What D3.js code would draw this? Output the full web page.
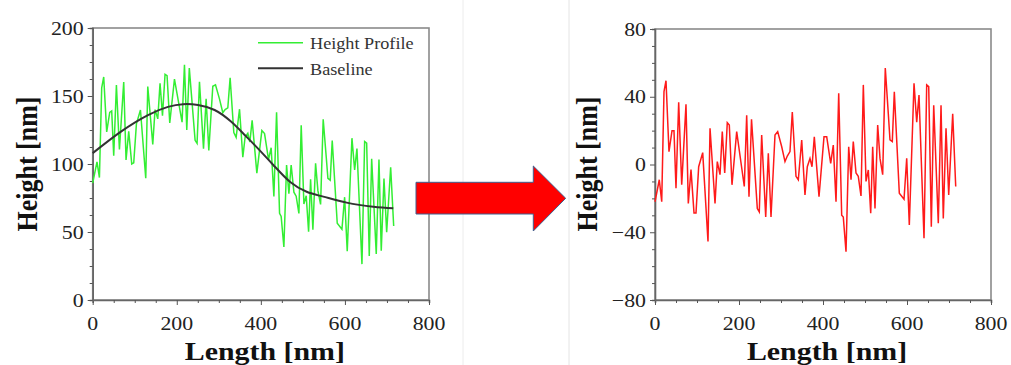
<!DOCTYPE html>
<html>
<head>
<meta charset="utf-8">
<script src="https://cdn.jsdelivr.net/npm/d3@7"></script>
<style>
  html, body { margin: 0; padding: 0; background: #fff; }
  svg text { font-family: "Liberation Serif", "Times New Roman", serif; }
</style>
</head>
<body>
<svg id="chart" width="1011" height="365"></svg>
<script>
// sample positions along the profile (nm)
const lengthNm = [0, 10.2, 16, 21.4, 26.2, 33.3, 40.5, 45.2, 50, 56.4, 63.6, 73.8, 79.3, 85.7, 92.9, 97.6,
  104, 113.6, 126.2, 131, 142.9, 148.3, 154.8, 160.2, 166, 172.1, 176.9, 183.3, 194.5, 212.6, 218.3, 223.8,
  229.8, 243.6, 248.3, 254, 263.6, 269.8, 276.2, 285.7, 292.1, 301.7, 309.5, 315, 321.4, 326.9, 335.7, 341.2,
  349.3, 357.1, 362.6, 369, 373.8, 379.3, 390.5, 402.4, 408.8, 418.3, 424.5, 431, 437.4, 444.5, 448.3, 454.8,
  461.2, 466.7, 472.1, 478.6, 484, 490.5, 496, 502.4, 507.9, 513.6, 518.3, 523.8, 530.2, 535.7, 542.1, 548.3,
  555.5, 559.5, 565, 569.8, 581.7, 592.9, 599.3, 605.5, 616.7, 623.1, 628.6, 640.5, 646.9, 651.7, 657.9, 663.6,
  674.5, 681, 686.4, 692.9, 699.3, 708.8, 716];

// raw height profile (nm)
const heightProfile = [86, 101.5, 90, 156, 164, 123.6, 138, 139, 106, 158, 110.7, 160.3, 103, 124, 100, 100.8,
  129.5, 139.7, 89.5, 157, 114.4, 140, 133.2, 159.4, 135.6, 166, 165, 130.2, 162.4, 130.8, 173, 125,
  170.5, 117.4, 115.2, 160.4, 111.3, 148, 109.9, 157.2, 158.2, 147.7, 137.7, 140, 141.3, 163.4, 123.2, 119.6,
  140.3, 105, 119.9, 122.6, 116.2, 132.2, 93.3, 124.6, 122.4, 103.3, 112, 76.2, 138, 63.7, 61.5, 39,
  99.2, 78.2, 99.3, 79.3, 76.3, 63.6, 128.5, 70.6, 76.6, 50.2, 88.8, 51.7, 100.5, 80.4, 70.3, 132.8,
  105.3, 89.5, 88.1, 117.3, 56.4, 52, 75.6, 35.9, 119, 95.7, 111.4, 26.4, 116.6, 115.4, 32.4, 103.8,
  33.8, 103.3, 36.3, 89.4, 49.8, 97.6, 54.4];

// profile after baseline removal (nm)
const flattened = [-22, -9, -22, 43, 49.5, 7.6, 20, 20, -14, 36.7, -12, 35.5, -23, -3, -28.7, -28.7,
  -1.3, 7, -45.5, 21.4, -23, 1.7, -6, 19.4, -5, 24.7, 23.3, -12, 19.4, -13, 29, -19,
  26.7, -26, -28, 17.4, -31, 6.6, -31, 17.4, 19.4, 10.5, 1.7, 5, 7.6, 31, -7, -9,
  14.5, -18, -1.3, 3.6, -1.3, 16.4, -19, 16.4, 16.4, 0.7, 11.5, -22, 42, -30, -31, -51.5,
  10.5, -9, 13.5, -5, -7, -18.6, 47, -10, -3.2, -28.8, 10.5, -26, 23.3, 3.6, -6, 57,
  30, 14.5, 13.5, 43, -17, -20.5, 3.6, -35.7, 48, 25, 41, -43.6, 47, 46, -36.7, 35,
  -34.7, 35, -31.8, 21.4, -18, 30, -13];

// smooth baseline control points
const baseX = [0, 68, 131.5, 179, 215, 250.5, 290, 329.7, 361.6, 382, 429.6, 469, 509, 548.5, 604, 667.5, 715];
const baseY = [108, 124, 136, 142, 144, 143.4, 139.7, 131, 121.3, 115, 99.3, 87, 79.6, 76, 71.6, 68.6, 67.4];

const xTicks = [0, 200, 400, 600, 800];
const leftYTicks = [0, 50, 100, 150, 200];
const rightYTicks = [-80, -40, 0, 40, 80];
const legendNames = ["Height Profile", "Baseline"];

// the source picture is a little stretched sideways
const stretch = 1.15;

const svg = d3.select('#chart');

// faint screenshot edges
svg.append('line').attr('x1', 463).attr('x2', 463).attr('y1', 0).attr('y2', 365)
  .attr('stroke', '#ececec').attr('stroke-width', 1);
svg.append('line').attr('x1', 569).attr('x2', 569).attr('y1', 0).attr('y2', 365)
  .attr('stroke', '#e4e4e4').attr('stroke-width', 1);

function stretchedText(g, x, y, anchor, size, weight, str) {
  return g.append('text')
    .attr('transform', `translate(${x},${y}) scale(${stretch},1)`)
    .attr('text-anchor', anchor).attr('font-size', size).attr('font-weight', weight)
    .attr('fill', '#111').text(str);
}

function drawPanel(opts) {
  const x = d3.scaleLinear().domain([0, 800]).range([opts.x0, opts.x1]);
  const y = d3.scaleLinear().domain(opts.yDomain).range([300, opts.yTop]);
  const g = svg.append('g');

  // frame
  g.append('rect')
    .attr('x', opts.x0).attr('y', opts.yTop)
    .attr('width', opts.x1 - opts.x0).attr('height', 300 - opts.yTop)
    .attr('fill', 'none').attr('stroke', '#8a8a8a').attr('stroke-width', 1.6);

  // x axis
  const xAx = g.append('g').attr('transform', 'translate(0,300)')
    .call(d3.axisBottom(x).tickValues(d3.range(0, 801, 50)).tickSize(3).tickFormat(''));
  xAx.selectAll('line').attr('stroke', '#555')
    .attr('y2', d => d % 200 === 0 ? 5 : 3);
  xAx.select('.domain').attr('stroke', '#666').attr('stroke-width', 1.6);
  xTicks.forEach(d => stretchedText(g, x(d), 330, 'middle', 19, 'normal', d).attr('fill', '#222'));

  // y axis
  const yAx = g.append('g').attr('transform', `translate(${opts.x0},0)`)
    .call(d3.axisLeft(y).tickValues(d3.range(opts.yDomain[0], opts.yDomain[1] + 0.01, opts.minor))
      .tickSize(3).tickFormat(''));
  yAx.selectAll('line').attr('stroke', '#555')
    .attr('x2', d => opts.yTicks.includes(d) ? -5 : -3);
  yAx.select('.domain').attr('stroke', '#666').attr('stroke-width', 1.6);
  opts.yTicks.forEach(d => stretchedText(g, opts.x0 - 9, y(d) + 6.5, 'end', 19, 'normal',
    d < 0 ? '\u2212' + Math.abs(d) : d).attr('fill', '#222'));

  // titles
  stretchedText(g, (opts.x0 + opts.x1) / 2 + 4, 360, 'middle', 26, 'bold', 'Length [nm]');
  g.append('text')
    .attr('transform', `translate(${opts.labelX},164) scale(${stretch},1) rotate(-90)`)
    .attr('text-anchor', 'middle').attr('font-size', 26).attr('font-weight', 'bold').attr('fill', '#111')
    .text('Height [nm]');

  return { x, y, g };
}

// left panel: profile and baseline
const left = drawPanel({ x0: 92.7, x1: 429, yTop: 28, yDomain: [0, 200], minor: 12.5,
  yTicks: leftYTicks, labelX: 37 });

left.g.append('path')
  .datum(lengthNm.map((d, i) => [d, heightProfile[i]]))
  .attr('fill', 'none').attr('stroke', '#33ee33').attr('stroke-width', 1.5)
  .attr('d', d3.line().x(d => left.x(d[0])).y(d => left.y(d[1])));

left.g.append('path')
  .datum(baseX.map((d, i) => [d, baseY[i]]))
  .attr('fill', 'none').attr('stroke', '#333').attr('stroke-width', 2)
  .attr('d', d3.line().curve(d3.curveNatural).x(d => left.x(d[0])).y(d => left.y(d[1])));

// legend
const legColors = ['#33ee33', '#333'];
legendNames.forEach((name, i) => {
  const ly = 42.7 + i * 25.6;
  left.g.append('line').attr('x1', 258).attr('x2', 303).attr('y1', ly).attr('y2', ly)
    .attr('stroke', legColors[i]).attr('stroke-width', i ? 2 : 1.6);
  left.g.append('text')
    .attr('transform', `translate(310,${ly + 6.5}) scale(1.04,1)`)
    .attr('font-size', 17.5).attr('fill', '#333').text(name);
});

// right panel: flattened profile
const right = drawPanel({ x0: 655, x1: 991, yTop: 29, yDomain: [-80, 80], minor: 10,
  yTicks: rightYTicks, labelX: 597 });

right.g.append('path')
  .datum(lengthNm.map((d, i) => [d, flattened[i]]))
  .attr('fill', 'none').attr('stroke', '#ff1a1a').attr('stroke-width', 1.5)
  .attr('d', d3.line().x(d => right.x(d[0])).y(d => right.y(d[1])));

// block arrow between panels
const arrowPts = [[416, 182.3], [533.3, 182.3], [533.3, 166], [565.7, 198.3], [533.3, 231], [533.3, 214], [416, 214]];
svg.append('path')
  .attr('d', d3.line()(arrowPts) + 'Z')
  .attr('fill', '#ff0000').attr('stroke', '#3f5f8f').attr('stroke-width', 1);
</script>
</body>
</html>
